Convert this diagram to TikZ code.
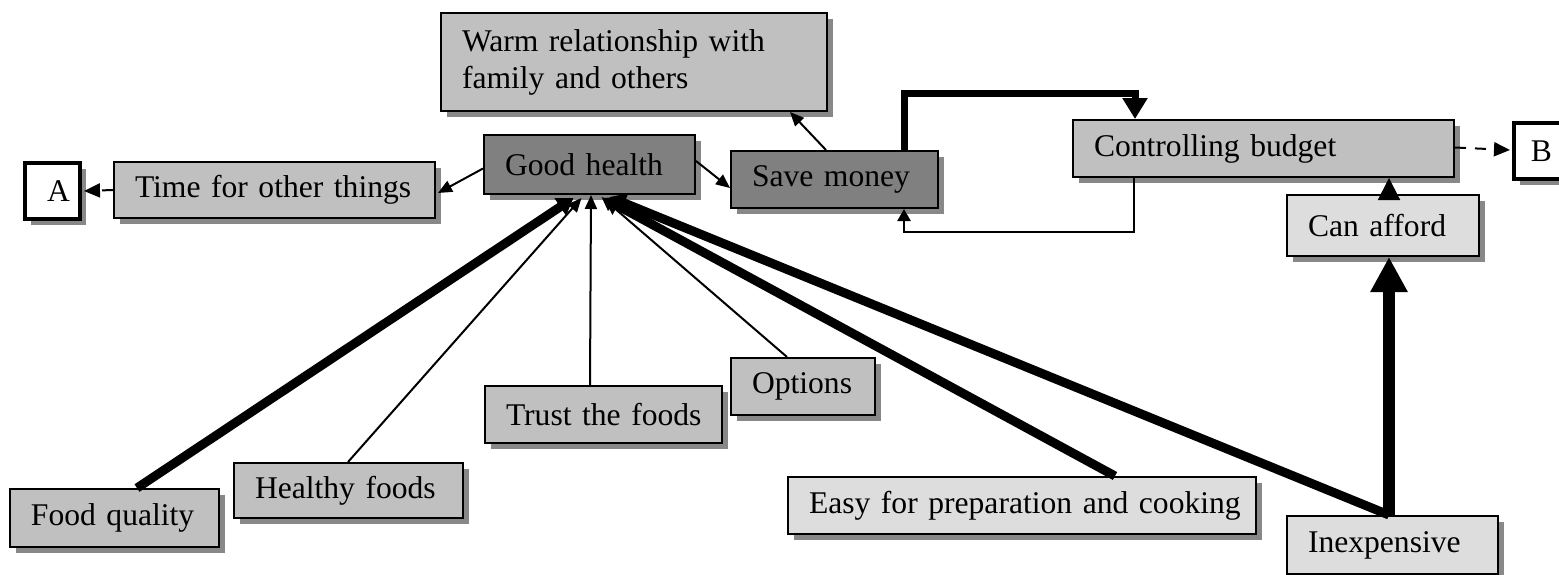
\documentclass[tikz,border=0pt]{standalone}
\usepackage{fontspec}
\setmainfont{Liberation Serif}
\usetikzlibrary{arrows.meta,shadows}
\definecolor{silverfill}{HTML}{C0C0C0}
\definecolor{lightfill}{HTML}{DDDDDD}
\definecolor{darkfill}{HTML}{808080}
\definecolor{shadowgray}{HTML}{888888}
\tikzset{
  box/.style={draw=black, line width=1pt, anchor=north west, inner xsep=10.5pt,
    inner ysep=0pt, align=left, font=\fontsize{15.8}{18.5}\selectfont,
    drop shadow={shadow xshift=3pt, shadow yshift=-3pt, fill=shadowgray, opacity=1}},
  linkbox/.style={box, line width=2pt, fill=white, align=center, inner xsep=0pt,
    minimum width=27.5pt, minimum height=28pt},
  thin/.style={line width=1pt, -{Triangle[length=7pt,width=6pt]}},
  heavy/.style={line width=4.5pt, -{Triangle[length=8pt,width=10pt]}},
  dashedlink/.style={line width=1pt, dash pattern=on 5.5pt off 4.5pt,
    -{Triangle[length=8pt,width=7pt]}},
}
\begin{document}
\begin{tikzpicture}[x=0.5pt,y=-0.5pt]
\useasboundingbox (0,0) rectangle (1559,574);

% boxes (coordinates of the top left corners)
\node[box, fill=silverfill, minimum width=193pt, minimum height=49pt, text width=172pt]
  (wr) at (440,12) {\mbox{Warm relationship with}\\\mbox{family and others}};
\node[box, fill=darkfill, minimum width=105.5pt, minimum height=29.5pt, text width=84.5pt]
  (gh) at (483,134) {\mbox{Good health}};
\node[box, fill=darkfill, minimum width=103.5pt, minimum height=28.5pt, text width=82.5pt]
  (sm) at (730,150) {\mbox{Save money}};
\node[box, fill=silverfill, minimum width=160.5pt, minimum height=28pt, text width=139.5pt]
  (tm) at (113,161) {\mbox{Time for other things}};
\node[linkbox] (la) at (23,161) {\hspace*{6pt}A};
\node[box, fill=silverfill, minimum width=190.5pt, minimum height=28.5pt, text width=169.5pt]
  (cb) at (1072,119) {\mbox{Controlling budget}};
\node[linkbox] (lb) at (1512,121) {B};
\node[box, fill=lightfill, minimum width=96pt, minimum height=30.5pt, text width=75pt]
  (ca) at (1286,194) {\mbox{Can afford}};
\node[box, fill=silverfill, minimum width=104.5pt, minimum height=29pt, text width=83.5pt]
  (fq) at (9,488) {\mbox{Food quality}};
\node[box, fill=silverfill, minimum width=114.5pt, minimum height=27.5pt, text width=93.5pt]
  (hf) at (233,462) {\mbox{Healthy foods}};
\node[box, fill=silverfill, minimum width=118.5pt, minimum height=28.5pt, text width=97.5pt]
  (tf) at (484,385) {\mbox{Trust the foods}};
\node[box, fill=silverfill, minimum width=72pt, minimum height=28.5pt, text width=51pt]
  (op) at (730,357) {\mbox{Options}};
\node[box, fill=lightfill, minimum width=234pt, minimum height=28.5pt, text width=213pt]
  (ez) at (787,476) {\mbox{Easy for preparation and cooking}};
\node[box, fill=lightfill, minimum width=105.5pt, minimum height=29pt, text width=84.5pt]
  (ie) at (1286,515) {\mbox{Inexpensive}};

% links out of the page
\draw[dashedlink] (tm.west) -- ([xshift=1pt]la.east);
\draw[dashedlink] ([yshift=0.5pt]cb.east) -- ([xshift=-1pt,yshift=0.5pt]lb.west);

% links around good health
\draw[thin] ([yshift=-2pt]gh.west) -- ([xshift=1pt,yshift=-1.5pt]tm.east);
\draw[thin] ([yshift=1.75pt]gh.east) -- ([yshift=-4.25pt]sm.west);
\draw[thin] ([xshift=48pt]sm.north west) -- ([xshift=175pt]wr.south west);

% budget loop
\draw[line width=3.5pt, -{Triangle[length=10.5pt,width=12pt]}]
  ([xshift=87pt]sm.north west) -- ++(0,-57) -| ([xshift=31.5pt]cb.north west);
\draw[line width=1.25pt, -{Triangle[length=6pt,width=6.5pt]}]
  ([xshift=31pt]cb.south west) -- ++(0,54) -| ([xshift=87pt]sm.south west);

% affordability
\draw[line width=1pt, -{Triangle[length=11pt,width=11pt]}]
  ([xshift=51.5pt]ca.north west) -- ([xshift=158.5pt]cb.south west);
\draw[line width=6pt, -{Triangle[length=17.5pt,width=17.5pt]}]
  ([xshift=51.5pt]ie.north west) -- ([xshift=51.5pt]ca.south west);

% factors of good health
\draw[heavy] ([xshift=64pt]fq.north west) -- ([xshift=-8pt,yshift=-1.5pt]gh.south);
\draw[thin] ([xshift=57.5pt]hf.north west) -- ([xshift=-4pt,yshift=-1.5pt]gh.south);
\draw[thin] ([xshift=53pt]tf.north west) -- ([xshift=0.75pt]gh.south);
\draw[thin] ([xshift=28.5pt]op.north west) -- ([xshift=6pt,yshift=-1pt]gh.south);
\draw[heavy] ([xshift=164pt]ez.north west) -- ([xshift=7pt,yshift=-1.5pt]gh.south);
\draw[heavy] ([xshift=51.5pt]ie.north west) -- ([xshift=10pt,yshift=-1pt]gh.south);
\end{tikzpicture}
\end{document}
